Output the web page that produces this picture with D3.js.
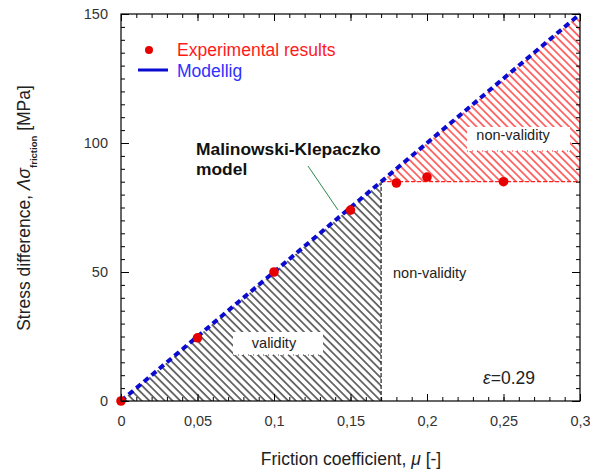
<!DOCTYPE html>
<html>
<head>
<meta charset="utf-8">
<script src="https://cdn.jsdelivr.net/npm/d3@7"></script>
<style>
  body { margin: 0; background: #fff; }
  svg { font-family: "Liberation Sans", Arial, sans-serif; }
</style>
</head>
<body>
<svg id="chart" width="590" height="473"></svg>
<script>
// experimental points
var muExp = [0, 0.05, 0.1, 0.15, 0.18, 0.2, 0.25];
var stressExp = [0, 24.5, 50, 74, 84.5, 86.8, 85];

// model line (Malinowski-Klepaczko)
var muModel = [0, 0.3];
var stressModel = [0, 150];

// validity / non-validity zones
var validityZone = [[0, 0], [0.17, 0], [0.17, 85]];
var nonValidityZone = [[0.17, 85], [0.3, 85], [0.3, 150]];

var xTickValues = [0, 0.05, 0.1, 0.15, 0.2, 0.25, 0.3];
var xTickLabels = ["0", "0,05", "0,1", "0,15", "0,2", "0,25", "0,3"];
var yTickValues = [0, 50, 100, 150];
var yTickLabels = ["0", "50", "100", "150"];

var svg = d3.select("svg#chart");

var margin = { top: 14, right: 10, bottom: 72, left: 121 };
var plotWidth = 459;
var plotHeight = 387;

var x = d3.scaleLinear().domain([0, 0.3]).range([0, plotWidth]);
var y = d3.scaleLinear().domain([0, 150]).range([plotHeight, 0]);

var defs = svg.append("defs");
function hatch(id, color) {
    var p = defs.append("pattern")
        .attr("id", id)
        .attr("patternUnits", "userSpaceOnUse")
        .attr("width", 10)
        .attr("height", 5.45)
        .attr("patternTransform", "rotate(45)");
    p.append("line")
        .attr("x1", 0).attr("x2", 10)
        .attr("y1", 2.7).attr("y2", 2.7)
        .attr("stroke", color)
        .attr("stroke-width", 1.1);
}
hatch("hatchBlack", "#000");
hatch("hatchRed", "#ff0000");

var plot = svg.append("g")
    .attr("transform", "translate(" + margin.left + "," + margin.top + ")");

var poly = d3.line().x(function (d) { return x(d[0]); }).y(function (d) { return y(d[1]); });

// hatched zones
plot.append("path")
    .attr("d", poly(validityZone) + "Z")
    .attr("fill", "url(#hatchBlack)");
plot.append("path")
    .attr("d", poly(nonValidityZone) + "Z")
    .attr("fill", "url(#hatchRed)");

// zone borders
plot.append("path")
    .attr("d", poly([validityZone[1], validityZone[2]]))
    .attr("stroke", "#222")
    .attr("stroke-width", 1.2)
    .attr("stroke-dasharray", "4,2")
    .attr("fill", "none");
plot.append("path")
    .attr("d", poly([nonValidityZone[0], nonValidityZone[1]]))
    .attr("stroke", "#ff2020")
    .attr("stroke-width", 1.2)
    .attr("stroke-dasharray", "4,2")
    .attr("fill", "none");

// label boxes
plot.append("rect")
    .attr("x", 233 - margin.left).attr("y", 332 - margin.top)
    .attr("width", 90).attr("height", 23)
    .attr("fill", "#fff");
plot.append("line")
    .attr("x1", 233 - margin.left).attr("x2", 323 - margin.left)
    .attr("y1", 355 - margin.top).attr("y2", 355 - margin.top)
    .attr("stroke", "#444").attr("stroke-dasharray", "1,4");
plot.append("rect")
    .attr("x", 467 - margin.left).attr("y", 127 - margin.top)
    .attr("width", 103).attr("height", 24)
    .attr("fill", "#fff");
plot.append("line")
    .attr("x1", 467 - margin.left).attr("x2", 570 - margin.left)
    .attr("y1", 151 - margin.top).attr("y2", 151 - margin.top)
    .attr("stroke", "#ff2020").attr("stroke-dasharray", "1,4");

// model line
var modelData = muModel.map(function (m, i) { return [m, stressModel[i]]; });
plot.append("path")
    .attr("d", poly(modelData))
    .attr("stroke", "#0a0ad0")
    .attr("stroke-width", 4)
    .attr("stroke-dasharray", "6,4")
    .attr("fill", "none");

// experimental points
plot.selectAll("circle.exp")
    .data(muExp.map(function (m, i) { return { mu: m, s: stressExp[i] }; }))
    .enter().append("circle")
    .attr("class", "exp")
    .attr("cx", function (d) { return x(d.mu); })
    .attr("cy", function (d) { return y(d.s); })
    .attr("r", 4.8)
    .attr("fill", "#e60000");

// axes: labels
var xLabAxis = d3.axisBottom(x).tickValues(xTickValues)
    .tickFormat(function (d, i) { return xTickLabels[i]; })
    .tickSize(0).tickPadding(15);
var yLabAxis = d3.axisLeft(y).tickValues(yTickValues)
    .tickFormat(function (d, i) { return yTickLabels[i]; })
    .tickSize(0).tickPadding(13);

var gx = plot.append("g").attr("transform", "translate(0," + plotHeight + ")").call(xLabAxis);
var gy = plot.append("g").call(yLabAxis);
[gx, gy].forEach(function (g) {
    g.select(".domain").remove();
    g.selectAll("text").attr("font-size", 14.5).attr("fill", "#333")
        .attr("font-family", "Liberation Sans, Arial, sans-serif");
});

// inward ticks on all four sides
var xMinor = d3.range(0, 0.3001, 0.01);
var yMinor = d3.range(0, 150.01, 5);
function ticks(axisFn, scale, values, size, transform) {
    var g = plot.append("g").attr("transform", transform)
        .call(axisFn(scale).tickValues(values).tickSize(size).tickFormat(""));
    g.select(".domain").remove();
    g.selectAll("line").attr("stroke", "#000");
}
ticks(d3.axisBottom, x, xMinor, -4, "translate(0," + plotHeight + ")");
ticks(d3.axisBottom, x, xTickValues, -7, "translate(0," + plotHeight + ")");
ticks(d3.axisTop, x, xMinor, -4, "translate(0,0)");
ticks(d3.axisTop, x, xTickValues, -7, "translate(0,0)");
ticks(d3.axisLeft, y, yMinor, -4, "translate(0,0)");
ticks(d3.axisLeft, y, yTickValues, -8, "translate(0,0)");
ticks(d3.axisRight, y, yMinor, -4, "translate(" + plotWidth + ",0)");
ticks(d3.axisRight, y, yTickValues, -8, "translate(" + plotWidth + ",0)");

// frame
plot.append("rect")
    .attr("width", plotWidth).attr("height", plotHeight)
    .attr("fill", "none").attr("stroke", "#000").attr("stroke-width", 1.2);

// legend
svg.append("circle").attr("cx", 149).attr("cy", 50).attr("r", 4).attr("fill", "#e60000");
svg.append("text").attr("x", 177).attr("y", 56).attr("font-size", 17.5)
    .attr("fill", "#ff1a1a").text("Experimental results");
svg.append("line").attr("x1", 138).attr("x2", 168).attr("y1", 70).attr("y2", 70)
    .attr("stroke", "#0a0ad0").attr("stroke-width", 3);
svg.append("text").attr("x", 177).attr("y", 77).attr("font-size", 17.5)
    .attr("fill", "#3030ff").text("Modellig");

// annotations
svg.append("text").attr("x", 196).attr("y", 155).attr("font-size", 17.4)
    .attr("font-weight", "bold").attr("fill", "#111").text("Malinowski-Klepaczko");
svg.append("text").attr("x", 196).attr("y", 175).attr("font-size", 17.4)
    .attr("font-weight", "bold").attr("fill", "#111").text("model");
svg.append("line").attr("x1", 308).attr("y1", 166).attr("x2", 338).attr("y2", 210)
    .attr("stroke", "#2a8a4a").attr("stroke-width", 1);

svg.append("text").attr("x", 274).attr("y", 348).attr("font-size", 14.5)
    .attr("text-anchor", "middle").attr("fill", "#222").text("validity");
svg.append("text").attr("x", 513).attr("y", 140).attr("font-size", 14.5)
    .attr("text-anchor", "middle").attr("fill", "#222").text("non-validity");
svg.append("text").attr("x", 393).attr("y", 278).attr("font-size", 14.5)
    .attr("fill", "#222").text("non-validity");

var eps = svg.append("text").attr("x", 483).attr("y", 384).attr("font-size", 17.5).attr("fill", "#222");
eps.append("tspan").attr("font-style", "italic").text("ε");
eps.append("tspan").text("=0.29");

// axis titles
var xt = svg.append("text").attr("x", 351).attr("y", 465).attr("font-size", 17.5)
    .attr("text-anchor", "middle").attr("fill", "#222");
xt.append("tspan").text("Friction coefficient, ");
xt.append("tspan").attr("font-style", "italic").text("μ");
xt.append("tspan").text(" [-]");

var yt = svg.append("text").attr("transform", "translate(30,208) rotate(-90)")
    .attr("font-size", 17.5).attr("text-anchor", "middle").attr("fill", "#222");
yt.append("tspan").text("Stress difference, ");
yt.append("tspan").attr("font-style", "italic").text("Λσ");
yt.append("tspan").attr("font-size", 9.5).attr("font-weight", "bold").attr("dy", 7).text("friction");
yt.append("tspan").attr("dy", -7).text(" [MPa]");
</script>
</body>
</html>
